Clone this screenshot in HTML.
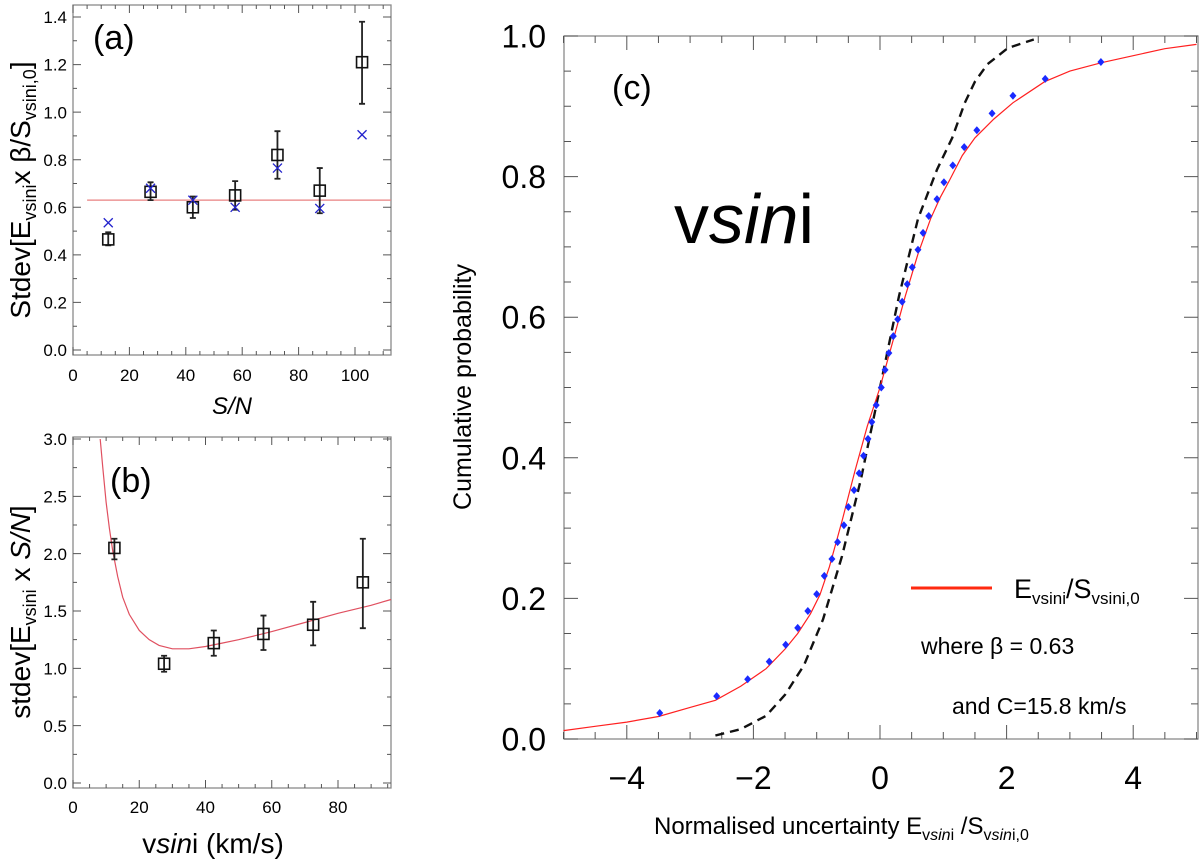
<!DOCTYPE html>
<html><head><meta charset="utf-8"><style>
html,body{margin:0;padding:0;background:#fff;}
svg{display:block;font-family:"Liberation Sans",sans-serif;}
</style></head><body>
<svg id="chart" width="1200" height="860" viewBox="0 0 1200 860" xmlns="http://www.w3.org/2000/svg">
<g id="pa"></g>
<g id="pb"></g>
<g id="pc"></g>
<text x="93" y="49" font-size="34">(a)</text>
<text x="110" y="492" font-size="34">(b)</text>
<text x="612" y="99" font-size="34">(c)</text>
<text x="674" y="243" font-size="70">v<tspan font-style="italic">sin</tspan>i</text>
<text transform="translate(30,190) rotate(-90)" text-anchor="middle" font-size="28">Stdev[E<tspan font-size="18" dy="6">vsini</tspan><tspan dy="-6">x β/S</tspan><tspan font-size="18" dy="6">vsini,0</tspan><tspan dy="-6">]</tspan></text>
<text x="232" y="414" text-anchor="middle" font-size="24" font-style="italic">S/N</text>
<text transform="translate(30,612) rotate(-90)" text-anchor="middle" font-size="28">stdev[E<tspan font-size="18" dy="6">vsini</tspan><tspan dy="-6"> x </tspan><tspan font-style="italic">S/N</tspan>]</text>
<text x="213" y="853" text-anchor="middle" font-size="28">v<tspan font-style="italic">sin</tspan>i  (km/s)</text>
<text transform="translate(471,387) rotate(-90)" text-anchor="middle" font-size="25">Cumulative probability</text>
<text x="654" y="834" font-size="24">Normalised uncertainty E<tspan font-size="16" dy="6">v<tspan font-style="italic">sin</tspan>i</tspan><tspan dy="-6"> /S</tspan><tspan font-size="16" dy="6">v<tspan font-style="italic">sin</tspan>i,0</tspan></text>
<line x1="911" y1="588" x2="992" y2="588" stroke="#ff2a10" stroke-width="3"/>
<text x="1014" y="598" font-size="27">E<tspan font-size="17" dy="6">vsini</tspan><tspan dy="-6">/S</tspan><tspan font-size="17" dy="6">vsini,0</tspan></text>
<text x="921" y="654" font-size="23">where  β = 0.63</text>
<text x="952" y="714" font-size="23">and C=15.8 km/s</text>
</svg>
<script>
// Panel (a)
const aSN=[12.5,27.5,42.5,57.5,72.5,87.5,102.5];
const aVal=[0.465,0.665,0.60,0.65,0.82,0.67,1.21];
const aLo=[0.44,0.63,0.555,0.59,0.72,0.575,1.035];
const aHi=[0.495,0.705,0.645,0.71,0.92,0.765,1.38];
const aCross=[0.535,0.68,0.63,0.60,0.765,0.595,0.905];
const aBeta=0.63;
const aXTicks=[0,20,40,60,80,100];
const aYTicks=[0.0,0.2,0.4,0.6,0.8,1.0,1.2,1.4];
// Panel (b)
const bV=[12.5,27.5,42.5,57.5,72.5,87.5];
const bVal=[2.05,1.04,1.22,1.30,1.38,1.75];
const bLo=[1.95,0.97,1.11,1.16,1.20,1.35];
const bHi=[2.13,1.11,1.33,1.46,1.58,2.13];
const bCurveX=[8.2,9,10,11,12,13.5,15,17,20,23,26,30,35,40,45,50,60,70,80,90,96];
const bCurveY=[3.0,2.75,2.45,2.22,2.02,1.80,1.62,1.47,1.33,1.25,1.20,1.17,1.17,1.19,1.22,1.25,1.32,1.40,1.48,1.55,1.60];
const bXTicks=[0,20,40,60,80];
const bYTicks=[0.0,0.5,1.0,1.5,2.0,2.5,3.0];
// Panel (c)
const cDotX=[-3.48,-2.58,-2.09,-1.75,-1.49,-1.30,-1.14,-1.0,-0.88,-0.76,-0.67,-0.57,-0.50,-0.41,-0.33,-0.26,-0.19,-0.13,-0.06,0.02,0.08,0.14,0.21,0.28,0.35,0.43,0.51,0.60,0.68,0.77,0.90,1.01,1.15,1.33,1.53,1.77,2.10,2.61,3.49];
const cDotP=[0.037,0.061,0.085,0.110,0.134,0.158,0.182,0.206,0.232,0.256,0.280,0.304,0.330,0.354,0.378,0.403,0.427,0.451,0.475,0.500,0.525,0.549,0.573,0.597,0.622,0.647,0.671,0.696,0.720,0.744,0.768,0.792,0.816,0.842,0.866,0.890,0.915,0.939,0.963];
const cRedX=[-5,-4.5,-4,-3.5,-3,-2.6,-2.2,-1.8,-1.5,-1.3,-1.1,-0.95,-0.8,-0.6,-0.4,-0.2,0,0.2,0.4,0.6,0.8,0.95,1.1,1.3,1.5,1.8,2.1,2.6,3,3.5,4,4.5,5];
const cRedP=[0.012,0.018,0.024,0.032,0.045,0.055,0.075,0.100,0.128,0.150,0.178,0.205,0.245,0.310,0.380,0.445,0.500,0.565,0.630,0.690,0.740,0.770,0.795,0.830,0.855,0.882,0.905,0.935,0.950,0.962,0.972,0.982,0.988];
const cGX=[-2.6,-2.2,-1.8,-1.5,-1.2,-0.9,-0.6,-0.3,0,0.3,0.6,0.9,1.14,1.34,1.5,1.7,2.02,2.43];
const cGP=[0.005,0.014,0.033,0.063,0.105,0.17,0.26,0.37,0.5,0.63,0.74,0.81,0.855,0.905,0.935,0.96,0.983,0.995];
const cXTicks=[-4,-2,0,2,4];
const cXTickLabels=["\u22124","\u22122","0","2","4"];
const cYTicks=[0.0,0.2,0.4,0.6,0.8,1.0];

const NS="http://www.w3.org/2000/svg";
function mk(parent,tag,attrs){const e=document.createElementNS(NS,tag);for(const k in attrs)e.setAttribute(k,attrs[k]);parent.appendChild(e);return e;}
function lin(d0,d1,r0,r1){return v=>r0+(v-d0)*(r1-r0)/(d1-d0);}

function frame(g,L,R,T,B,sx,sy,xmaj,xmin,ymaj,ymin,xlab,ylab,fs,xlabY,ylabX,xr,yr){
  const f=mk(g,'rect',{x:L,y:T,width:R-L,height:B-T,fill:'none',stroke:'#8a8a8a','stroke-width':1.3});
  
  const big=fs>25?14:8, sm=fs>25?7:4;
  for(let v=xr[0];v<=xr[1]+1e-9;v+=xmin){const x=sx(v);if(x<L-0.5||x>R+0.5)continue;
    const isM=Math.abs(v/xmaj-Math.round(v/xmaj))<1e-6;const l=isM?big:sm;
    const t=mk(g,'path',{d:`M${x},${B}V${B-l}M${x},${T}V${T+l}`,stroke:'#555','stroke-width':1});
    }
  for(let v=yr[0];v<=yr[1]+1e-9;v+=ymin){const y=sy(v);if(y<T-0.5||y>B+0.5)continue;
    const isM=Math.abs(v/ymaj-Math.round(v/ymaj))<1e-6;const l=isM?big:sm;
    const t=mk(g,'path',{d:`M${L},${y}H${L+l}M${R},${y}H${R-l}`,stroke:'#555','stroke-width':1});
    }
  xlab.forEach(([v,s])=>{const t=mk(g,'text',{x:sx(v),y:xlabY,'text-anchor':'middle','font-size':fs});t.textContent=s;
    });
  ylab.forEach(([v,s])=>{const t=mk(g,'text',{x:ylabX,y:sy(v)+fs*0.36,'text-anchor':'end','font-size':fs});t.textContent=s;
    });
}
function boxes(g,sx,sy,X,V,Lo,Hi){
  X.forEach((x,i)=>{const px=sx(x);
    const e=mk(g,'path',{d:`M${px},${sy(Lo[i])}V${sy(Hi[i])}M${px-3},${sy(Lo[i])}h6M${px-3},${sy(Hi[i])}h6`,stroke:'#222','stroke-width':1.8,fill:'none'});
    
    const b=mk(g,'rect',{x:px-5.5,y:sy(V[i])-5.5,width:11,height:11,fill:'none',stroke:'#111','stroke-width':1.6});
    });
}
function poly(X,Y,sx,sy){return X.map((x,i)=>(i?'L':'M')+sx(x).toFixed(1)+','+sy(Y[i]).toFixed(1)).join('');}

// Panel a
(function(){const g=document.getElementById('pa');
  const sx=lin(0,100,73,355), sy=lin(0,1.4,350,17);
  frame(g,73,391,5,355,sx,sy,20,5,0.2,0.1,aXTicks.map(v=>[v,String(v)]),aYTicks.map(v=>[v,v.toFixed(1)]),17,381,67,[0,112],[0,1.45]);
  const h=mk(g,'line',{x1:sx(5),x2:391,y1:sy(aBeta),y2:sy(aBeta),stroke:'#e88080','stroke-width':1.3});
  
  boxes(g,sx,sy,aSN,aVal,aLo,aHi);
  aSN.forEach((x,i)=>{const px=sx(x),py=sy(aCross[i]);
    const c=mk(g,'path',{d:`M${px-4.5},${py-4.5}l9,9M${px-4.5},${py+4.5}l9,-9`,stroke:'#2222cc','stroke-width':1.3});
    });
})();
// Panel b
(function(){const g=document.getElementById('pb');
  const sx=lin(0,80,73,338), sy=lin(0,3,783,439);
  frame(g,73,391,437,788,sx,sy,20,5,0.5,0.25,bXTicks.map(v=>[v,String(v)]),bYTicks.map(v=>[v,v.toFixed(1)]),17,813,67,[0,96],[0,3]);
  const c=mk(g,'path',{d:poly(bCurveX,bCurveY,sx,sy),stroke:'#e05060','stroke-width':1.2,fill:'none'});
  
  boxes(g,sx,sy,bV,bVal,bLo,bHi);
})();
// Panel c
(function(){const g=document.getElementById('pc');
  const sx=lin(0,1,880,943.3), sy=lin(0,1,739,36);
  frame(g,564,1198,36,739,sx,sy,2,0.5,0.2,0.05,cXTicks.map((v,i)=>[v,cXTickLabels[i]]),cYTicks.map(v=>[v,v.toFixed(1)]),32,789,546,[-5,5],[0,1]);
  const gl=mk(g,'path',{d:poly(cGX,cGP,sx,sy),stroke:'#111','stroke-width':2.4,fill:'none','stroke-dasharray':'9,6'});
  
  const r=mk(g,'path',{d:poly(cRedX,cRedP,sx,sy),stroke:'#ff2020','stroke-width':1.2,fill:'none'});
  
  cDotX.forEach((x,i)=>{const px=sx(x),py=sy(cDotP[i]);
    const d=mk(g,'path',{d:`M${px},${py-4}L${px+3.5},${py}L${px},${py+4}L${px-3.5},${py}Z`,fill:'#1a2aff'});
    });
})();
</script>
</body></html>
